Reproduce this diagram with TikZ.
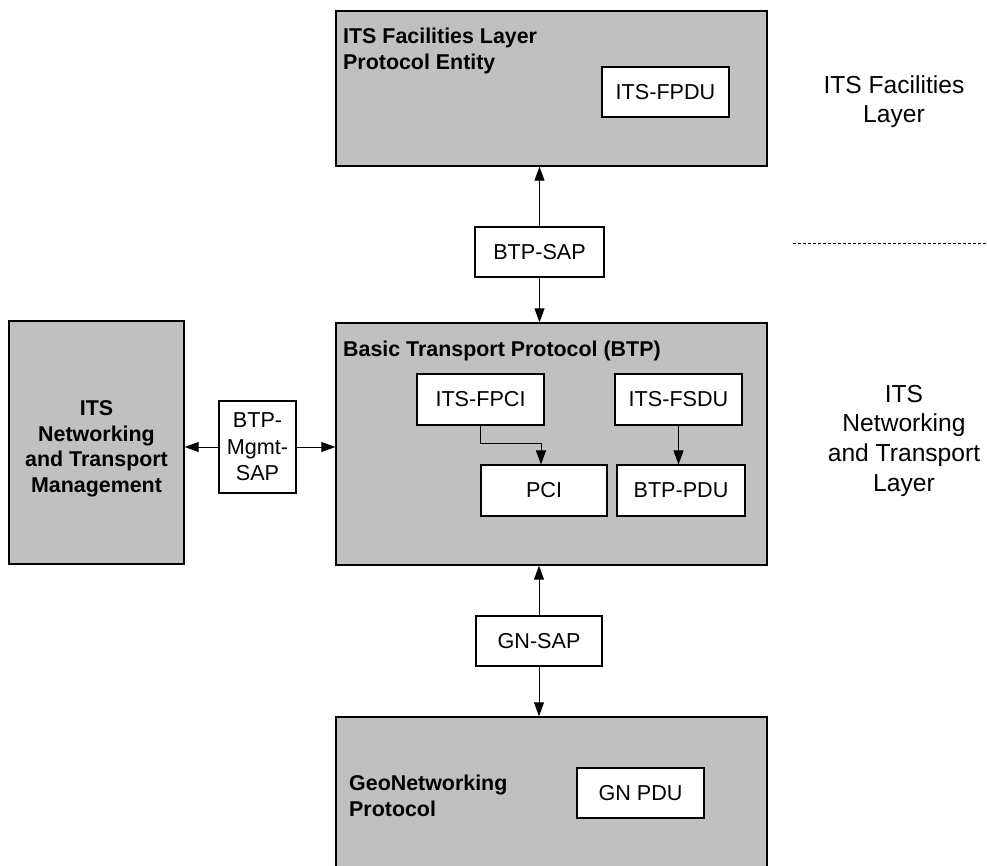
\documentclass[tikz,border=0pt]{standalone}
\usepackage{fontspec}
\setmainfont{Liberation Sans}
\usetikzlibrary{arrows.meta,calc}
\definecolor{boxgray}{RGB}{192,192,192}
\tikzset{
  x=1pt,y=-1pt,
  every node/.style={font=\fontsize{21.6}{30}\selectfont},
  layerbox/.style={draw=black,line width=1.4pt,fill=boxgray,inner sep=0pt,rectangle},
  pdubox/.style={draw=black,line width=1.1pt,fill=white,inner sep=0pt,rectangle,align=center},
  title/.style={inner sep=0pt,font=\fontsize{21.4}{25.5}\selectfont\bfseries,align=left},
  sidelabel/.style={inner sep=0pt,align=center,anchor=north,font=\fontsize{24.6}{29.6}\selectfont},
  arr/.style={line width=1pt,-{Triangle[length=14pt,width=10pt]}},
  sideline/.style={line width=0.8pt,dash pattern=on 3pt off 2pt},
}
\begin{document}
\begin{tikzpicture}
\useasboundingbox (0,0) rectangle (987,866);
\fill[white] (0,0) rectangle (987,866);

% Facilities layer entity
\node[layerbox,minimum width=431pt,minimum height=155pt] (fac) at (551.5,88.5) {};
\node[title,anchor=north west] (factitle) at (343,28) {ITS Facilities Layer\\Protocol Entity};
\node[pdubox,minimum width=127pt,minimum height=50pt] (fpdu) at (665.5,92) {ITS-FPDU};

% BTP-SAP
\node[pdubox,minimum width=129pt,minimum height=50pt] (btpsap) at (539.5,252) {BTP-SAP};

% BTP
\node[layerbox,minimum width=431pt,minimum height=242pt] (btp) at (551.5,444) {};
\node[title,anchor=base west] (btptitle) at (343,356) {Basic Transport Protocol (BTP)};
\node[pdubox,minimum width=127pt,minimum height=51pt] (fpci) at (480.5,399.5) {ITS-FPCI};
\node[pdubox,minimum width=127pt,minimum height=51pt] (fsdu) at (678.5,399.5) {ITS-FSDU};
\node[pdubox,minimum width=126pt,minimum height=51pt] (pci) at (544,490.5) {PCI};
\node[pdubox,minimum width=128pt,minimum height=51pt] (btppdu) at (681,490.5) {BTP-PDU};

% Management
\node[layerbox,minimum width=175pt,minimum height=243pt] (mgmt) at (96.5,442.5) {};
\node[title,align=center,anchor=north] (mgmttext) at (96.5,400.5) {ITS\\Networking\\and Transport\\Management};
\node[pdubox,minimum width=77pt,minimum height=92pt] (mgmtsap) at (257.5,447) {};
\node[inner sep=0pt,align=center,anchor=north,font=\fontsize{21.6}{26.6}\selectfont] (mgmtsaptext) at (257.5,412.5) {BTP-\\Mgmt-\\SAP};

% GN-SAP
\node[pdubox,minimum width=126pt,minimum height=50pt] (gnsap) at (539,641) {GN-SAP};

% GeoNetworking
\node[layerbox,minimum width=431pt,minimum height=163pt] (gn) at (551.5,798.5) {};
\node[title,anchor=north west] (gntitle) at (349,775) {GeoNetworking\\Protocol};
\node[pdubox,minimum width=127pt,minimum height=50pt] (gnpdu) at (640.5,793) {GN PDU};

% Layer labels
\node[sidelabel] (faclabel) at (894,75) {ITS Facilities\\Layer};
\node[sidelabel] (ntlabel) at (904,385) {ITS\\Networking\\and Transport\\Layer};
\coordinate (dashA) at (793,243);
\coordinate (dashB) at (987,243);
\draw[sideline] (dashA) -- (dashB);

% Connectors
\draw[arr] (btpsap.north) -- (btpsap.north |- fac.south);
\draw[arr] (btpsap.south) -- (btpsap.south |- btp.north);
\draw[arr] (fpci.south) -- ++(0,18) -| ($(pci.north)+(-3,0)$);
\draw[arr] (fsdu.south) -- (fsdu.south |- btppdu.north);
\draw[arr] (mgmtsap.west) -- (mgmtsap.west -| mgmt.east);
\draw[arr] (mgmtsap.east) -- (mgmtsap.east -| btp.west);
\draw[arr] (gnsap.north) -- (gnsap.north |- btp.south);
\draw[arr] (gnsap.south) -- (gnsap.south |- gn.north);
\end{tikzpicture}
\end{document}
